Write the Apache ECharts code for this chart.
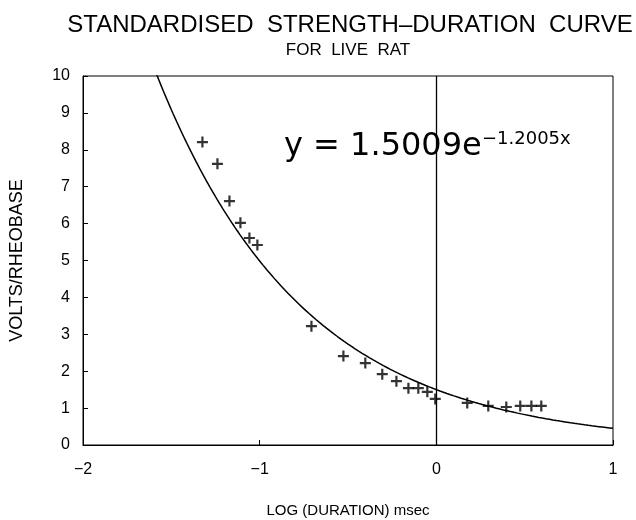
<!DOCTYPE html>
<html>
<head>
<meta charset="utf-8">
<script src="https://cdn.jsdelivr.net/npm/echarts@6/dist/echarts.min.js"></script>
<style>html,body{margin:0;background:#fff}#c{width:636px;height:520px}</style>
</head>
<body>
<div id="c"></div>
<script>
// Measured data points (log duration, volts/rheobase)
const logDuration = [-1.324, -1.239, -1.171, -1.109, -1.058, -1.013, -0.707, -0.526, -0.402, -0.306, -0.226, -0.158, -0.102, -0.051, -0.006, 0.175, 0.294, 0.396, 0.475, 0.538, 0.594];
const voltsRheobase = [8.21, 7.62, 6.61, 6.02, 5.61, 5.42, 3.22, 2.41, 2.22, 1.92, 1.73, 1.54, 1.54, 1.44, 1.25, 1.14, 1.06, 1.03, 1.06, 1.06, 1.06];
// Fitted curve as printed on the chart: y = 1.5009 e^(-1.2005 x)
const fitCoefA = 1.5009;
const fitCoefB = -1.2005;
const xTicks = [-2, -1, 0, 1];
const yTicks = [0, 1, 2, 3, 4, 5, 6, 7, 8, 9, 10];

const FONT = 'Liberation Sans, Arial, sans-serif';
const EQFONT = 'DejaVu Sans, sans-serif';
const points = logDuration.map((x, i) => [x, voltsRheobase[i]]);
const curve = [];
for (let i = 0; i <= 300; i++) {
  const x = -2 + i * 0.01;
  curve.push([x, fitCoefA * Math.exp(fitCoefB * x)]);
}
const plus = 'path://M4,0H6V4H10V6H6V10H4V6H0V4H4Z';

const chart = echarts.init(document.getElementById('c'), null, {renderer: 'canvas'});
chart.setOption({
  animation: false,
  backgroundColor: '#fff',
  title: [
    {text: 'STANDARDISED  STRENGTH\u2013DURATION  CURVE', left: 345, top: 8, textAlign: 'center',
     textStyle: {fontFamily: FONT, fontSize: 24, fontWeight: 'normal', color: '#000'}},
    {text: 'FOR  LIVE  RAT', left: 343, top: 37, textAlign: 'center',
     textStyle: {fontFamily: FONT, fontSize: 17, fontWeight: 'normal', color: '#000'}}
  ],
  grid: {left: 83, right: 23, top: 76, bottom: 75, show: true, borderColor: '#000', borderWidth: 1,
         containLabel: false, outerBoundsMode: 'none'},
  xAxis: {
    type: 'value', min: xTicks[0], max: xTicks[xTicks.length - 1], interval: 1,
    name: 'LOG (DURATION) msec', nameLocation: 'middle', nameGap: 58,
    nameTextStyle: {fontFamily: FONT, fontSize: 15, color: '#000'},
    axisLine: {onZero: false, lineStyle: {color: '#000', width: 1}},
    axisTick: {inside: true, length: 5, lineStyle: {color: '#000'}},
    axisLabel: {fontFamily: FONT, fontSize: 16, color: '#000', margin: 17,
      formatter: v => String(v).replace('-', '\u2212')},
    splitLine: {show: false}
  },
  yAxis: {
    type: 'value', min: yTicks[0], max: yTicks[yTicks.length - 1], interval: 1,
    name: 'VOLTS/RHEOBASE', nameLocation: 'middle', nameGap: 57, nameRotate: 90,
    nameTextStyle: {fontFamily: FONT, fontSize: 18, color: '#000'},
    axisLine: {show: true, onZero: false, lineStyle: {color: '#000', width: 1}},
    axisTick: {inside: true, length: 5, lineStyle: {color: '#000'}},
    axisLabel: {fontFamily: FONT, fontSize: 16, color: '#000', margin: 13},
    splitLine: {show: false}
  },
  graphic: [
    {type: 'text', style: {x: 284, y: 147, text: 'y = 1.5009e', font: '32px ' + EQFONT, fill: '#000', textVerticalAlign: 'middle', verticalAlign: 'middle'}},
    {type: 'text', style: {x: 482, y: 139, text: '\u22121.2005x', font: '18px ' + EQFONT, fill: '#000', textVerticalAlign: 'middle', verticalAlign: 'middle'}}
  ],
  series: [
    {
      type: 'line', data: curve, showSymbol: false, clip: true,
      lineStyle: {color: '#000', width: 1.5},
      markLine: {
        silent: true, symbol: 'none', label: {show: false},
        lineStyle: {color: '#000', width: 1.3, type: 'solid'},
        data: [{xAxis: 0}]
      }
    },
    {
      type: 'scatter', data: points, symbol: plus, symbolSize: 11,
      itemStyle: {color: '#000'}
    }
  ]
});
</script>
</body>
</html>
